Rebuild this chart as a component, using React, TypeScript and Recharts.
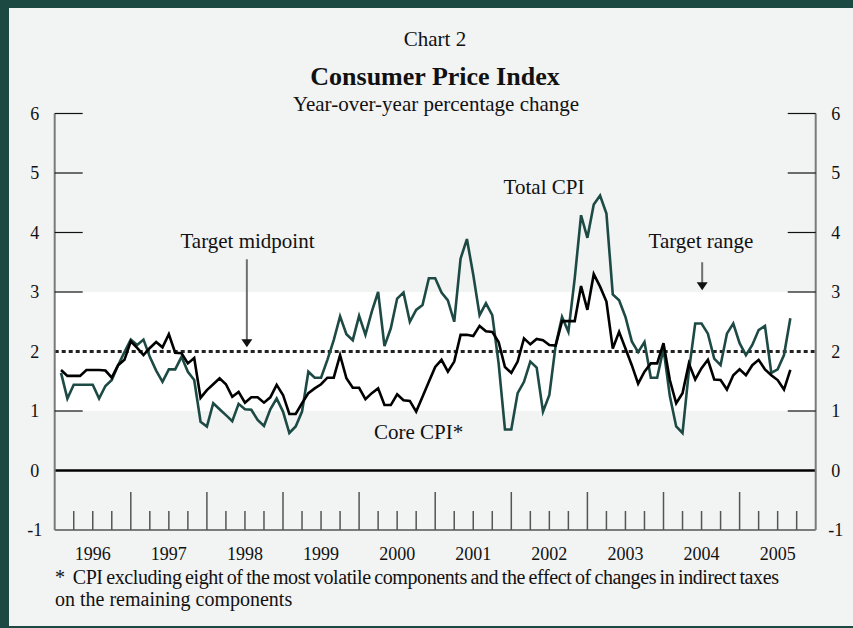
import React from 'react';
import { LineChart, Line, XAxis, YAxis, ReferenceArea, ReferenceLine } from 'recharts';

// year labels along the bottom axis
const years = ['1996', '1997', '1998', '1999', '2000', '2001', '2002', '2003', '2004', '2005'];

// total CPI, y/y % change, monthly Jan 1996 - Aug 2005
const totalCpi = [
  1.64, 1.21, 1.44, 1.44, 1.44, 1.44, 1.21, 1.42, 1.52, 1.77, 1.99, 2.2,
  2.11, 2.2, 1.91, 1.68, 1.49, 1.7, 1.7, 1.91, 1.66, 1.52, 0.82, 0.74,
  1.13, 1.03, 0.93, 0.83, 1.12, 1.03, 1.02, 0.85, 0.75, 1.03, 1.21, 0.99,
  0.63, 0.74, 0.99, 1.66, 1.56, 1.56, 1.86, 2.19, 2.59, 2.29, 2.19, 2.6,
  2.28, 2.67, 3.0, 2.09, 2.39, 2.89, 2.99, 2.5, 2.7, 2.78, 3.23, 3.23,
  2.99, 2.86, 2.5, 3.56, 3.89, 3.29, 2.61, 2.81, 2.61, 1.8, 0.69, 0.69,
  1.3, 1.49, 1.83, 1.73, 0.99, 1.27, 2.11, 2.58, 2.33, 3.23, 4.29, 3.91,
  4.47, 4.62, 4.32, 2.96, 2.86, 2.58, 2.17, 1.99, 2.16, 1.56, 1.56, 2.05,
  1.25, 0.74, 0.63, 1.67, 2.47, 2.47, 2.3, 1.88, 1.77, 2.3, 2.47, 2.14,
  1.94, 2.11, 2.36, 2.43, 1.64, 1.7, 1.94, 2.56,
];

// core CPI (CPIX), same months
const coreCpi = [
  1.69, 1.59, 1.59, 1.59, 1.69, 1.69, 1.69, 1.68, 1.56, 1.77, 1.86, 2.17,
  2.06, 1.94, 2.06, 2.16, 2.07, 2.29, 1.98, 1.97, 1.8, 1.89, 1.22, 1.35,
  1.45, 1.55, 1.45, 1.24, 1.32, 1.14, 1.23, 1.23, 1.14, 1.23, 1.44, 1.27,
  0.95, 0.95, 1.13, 1.3, 1.38, 1.45, 1.56, 1.56, 1.94, 1.55, 1.39, 1.39,
  1.2, 1.3, 1.38, 1.1, 1.1, 1.28, 1.18, 1.17, 0.99, 1.24, 1.49, 1.74,
  1.86, 1.66, 1.83, 2.28, 2.28, 2.26, 2.43, 2.34, 2.33, 2.16, 1.74, 1.64,
  1.83, 2.22, 2.12, 2.21, 2.19, 2.11, 2.1, 2.51, 2.51, 2.51, 3.1, 2.7,
  3.3, 3.09, 2.84, 2.05, 2.33, 2.05, 1.77, 1.46, 1.66, 1.8, 1.8, 2.14,
  1.52, 1.13, 1.3, 1.8, 1.53, 1.72, 1.86, 1.53, 1.52, 1.36, 1.6, 1.7,
  1.6, 1.77, 1.86, 1.7, 1.6, 1.52, 1.36, 1.69,
];

const yTicks = [-1, 0, 1, 2, 3, 4, 5, 6];
const targetRange = [1, 3];
const targetMid = 2;

// months counted from Jan 1996; each value sits at the end of its month
const data = totalCpi.map((v, i) => ({ m: i + 1, total: v, core: coreCpi[i] }));
const quarterTicks = years.flatMap((_, i) => [3, 6, 9, 12].map((q) => i * 12 + q)).filter((v) => v < 120);

const FONT = '"Liberation Serif", "Times New Roman", serif';
const GREEN = '#1d4a44';
const textStyle = { fontFamily: FONT, fontSize: 18 };

const XTick = ({ x, y, payload }: any) => {
  const v = payload.value;
  const len = v % 12 === 0 ? 38 : 19;
  return (
    <g>
      <line x1={x} y1={y} x2={x} y2={y - len} stroke="#555" strokeWidth={1.5} />
      {v % 12 === 6 && (
        <text x={x} y={y + 30} textAnchor="middle" style={textStyle} fill="#111">
          {years[(v - 6) / 12]}
        </text>
      )}
    </g>
  );
};

const YTick = ({ x, y, payload, side }: any) => {
  const v = payload.value;
  const hasLine = v > 0 && v !== targetMid;
  const dir = side === 'left' ? 1 : -1;
  return (
    <g>
      {hasLine && <line x1={x} y1={y} x2={x + dir * 28} y2={y} stroke="#111" strokeWidth={1.2} />}
      <text x={x - dir * 20} y={y + 6} textAnchor="middle" style={textStyle} fill="#111">
        {v}
      </text>
    </g>
  );
};

const Arrow = (p: any) => (
  <g>
    <line x1={p.x1} y1={p.y1} x2={p.x2} y2={p.y2 - 7} stroke="#6e6e6e" strokeWidth={2} />
    <polygon points={`${p.x2 - 5.5},${p.y2 - 8} ${p.x2 + 5.5},${p.y2 - 8} ${p.x2},${p.y2}`} fill="#111" />
  </g>
);

const Txt = ({ x, y, size = 21, bold = false, children, center = true, extra = {} }: any) => (
  <div
    style={{
      position: 'absolute',
      left: x,
      top: y,
      transform: center ? 'translate(-50%, -50%)' : 'translate(0, -50%)',
      fontSize: size,
      fontWeight: bold ? 'bold' : 'normal',
      fontFamily: FONT,
      color: '#111',
      whiteSpace: 'nowrap',
      lineHeight: 1,
      ...extra,
    }}
  >
    {children}
  </div>
);

export default function App() {
  return (
    <div style={{ position: 'absolute', left: 0, top: 0, width: 853, height: 628, background: '#f2f3f3', overflow: 'hidden' }}>
      <LineChart width={853} height={628} data={data} margin={{ top: 113.5, right: 0, left: 0, bottom: 0 }}>
        <XAxis
          dataKey="m"
          type="number"
          domain={[0, 120]}
          ticks={quarterTicks}
          interval={0}
          height={98}
          tickSize={0}
          tickMargin={0}
          tickLine={false}
          axisLine={{ stroke: '#555', strokeWidth: 1.5 }}
          tick={<XTick />}
        />
        <YAxis
          yAxisId="left"
          orientation="left"
          domain={[-1, 6]}
          ticks={yTicks}
          interval={0}
          width={54.7}
          tickSize={0}
          tickMargin={0}
          tickLine={false}
          axisLine={{ stroke: '#7a7a7a', strokeWidth: 2 }}
          tick={<YTick side="left" />}
        />
        <YAxis
          yAxisId="right"
          orientation="right"
          domain={[-1, 6]}
          ticks={yTicks}
          interval={0}
          width={37.3}
          tickSize={0}
          tickMargin={0}
          tickLine={false}
          axisLine={{ stroke: '#7a7a7a', strokeWidth: 2 }}
          tick={<YTick side="right" />}
        />
        <ReferenceArea
          yAxisId="left"
          x1={0}
          x2={120}
          y1={targetRange[0]}
          y2={targetRange[1]}
          fill="#ffffff"
          fillOpacity={1}
          stroke="none"
        />
        <ReferenceLine yAxisId="left" y={0} stroke="#000" strokeWidth={2.5} />
        <ReferenceLine yAxisId="left" y={targetMid} stroke="#222" strokeWidth={3} strokeDasharray="4 3" />
        <ReferenceLine
          yAxisId="left"
          segment={[{ x: 30.3, y: 3.55 }, { x: 30.3, y: 2.07 }]}
          shape={<Arrow />}
        />
        <ReferenceLine
          yAxisId="left"
          segment={[{ x: 102.1, y: 3.5 }, { x: 102.1, y: 3.03 }]}
          shape={<Arrow />}
        />
        <Line yAxisId="left" type="linear" dataKey="total" stroke={GREEN} strokeWidth={2.6} dot={false} isAnimationActive={false} />
        {/* both y axes share the same -1..6 domain */}
        <Line yAxisId="right" type="linear" dataKey="core" stroke="#000" strokeWidth={2.6} dot={false} isAnimationActive={false} />
      </LineChart>

      <Txt x={435} y={39}>Chart 2</Txt>
      <Txt x={435} y={77} size={26} bold>Consumer Price Index</Txt>
      <Txt x={436} y={104}>Year-over-year percentage change</Txt>
      <Txt x={247.5} y={241}>Target midpoint</Txt>
      <Txt x={701} y={241}>Target range</Txt>
      <Txt x={544} y={187}>Total CPI</Txt>
      <Txt x={418.5} y={432}>Core CPI*</Txt>
      <Txt x={55} y={577} size={20} center={false}>*</Txt>
      <Txt x={72.7} y={577} size={20} center={false} extra={{ letterSpacing: -0.4, wordSpacing: -1 }}>
        CPI excluding eight of the most volatile components and the effect of changes in indirect taxes
      </Txt>
      <Txt x={55} y={599} size={20} center={false}>on the remaining components</Txt>

      <div
        style={{
          position: 'absolute',
          inset: 0,
          boxSizing: 'border-box',
          borderStyle: 'solid',
          borderColor: '#1c4942',
          borderWidth: '8px 0 2px 9px',
          pointerEvents: 'none',
        }}
      />
    </div>
  );
}
